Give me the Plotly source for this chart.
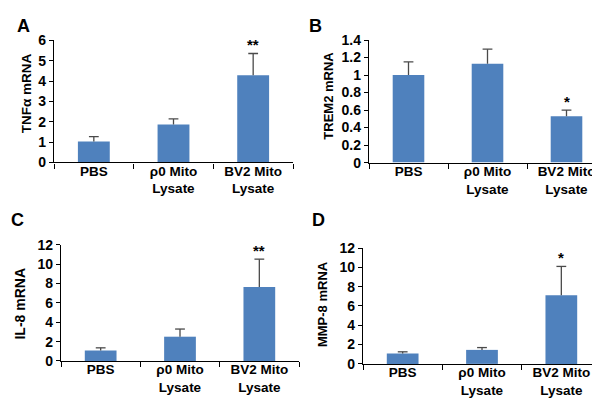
import plotly.graph_objects as go

categories = ["PBS", "ρ0 Mito<br>Lysate", "BV2 Mito<br>Lysate"]

tnf_values = [1.03, 1.87, 4.29]
tnf_errors = [0.24, 0.27, 1.07]
tnf_stars = ["", "", "**"]

trem2_values = [1.00, 1.13, 0.53]
trem2_errors = [0.15, 0.165, 0.07]
trem2_stars = ["", "", "*"]

il8_values = [1.09, 2.51, 7.64]
il8_errors = [0.27, 0.79, 2.88]
il8_stars = ["", "", "**"]

mmp8_values = [1.08, 1.45, 7.1]
mmp8_errors = [0.17, 0.24, 3.0]
mmp8_stars = ["", "", "*"]

panel_letters = ["A", "B", "C", "D"]
y_titles = ["TNFα mRNA", "TREM2 mRNA", "IL-8 mRNA", "MMP-8 mRNA"]
y_ranges = [(0, 6), (0, 1.4), (0, 12), (0, 12)]
y_dticks = [1, 0.2, 2, 2]
y_tickformats = ["d", "", "d", "d"]

W, H = 600, 402
BAR = "#4F81BD"
ERR = "#4a4a4a"
FONT = "Liberation Sans, Arial, sans-serif"

# pixel geometry of each panel: x0, x1, y_at_zero, y_at_max
geom = [
    (46, 285, 152.5, 25.5),
    (361, 598, 152.7, 25.0),
    (53, 291, 359.3, 238.3),
    (355, 593, 362.3, 241.7),
]
letter_pos = [(15, 10), (307, 10), (9, 212), (310, 212)]
ytitle_pos = [(18.5, 81), (321, 83), (12.5, 300), (314, 300)]
ytitle_sizes = [13.5, 13, 14, 13]

datasets = [
    (tnf_values, tnf_errors, tnf_stars),
    (trem2_values, trem2_errors, trem2_stars),
    (il8_values, il8_errors, il8_stars),
    (mmp8_values, mmp8_errors, mmp8_stars),
]

fig = go.Figure()
annotations = []
for i, (vals, errs, stars) in enumerate(datasets):
    n = i + 1
    xa = "x" if n == 1 else f"x{n}"
    ya = "y" if n == 1 else f"y{n}"
    fig.add_trace(go.Bar(
        x=categories, y=vals, xaxis=xa, yaxis=ya,
        marker=dict(color=BAR, line=dict(width=0)),
        error_y=dict(type="data", array=errs, arrayminus=[0] * 3,
                     symmetric=False, color=ERR, thickness=1.3, width=0),
        showlegend=False, hoverinfo="skip",
    ))
    fig.add_trace(go.Scatter(
        x=categories, y=[v + e for v, e in zip(vals, errs)],
        xaxis=xa, yaxis=ya, mode="markers",
        marker=dict(symbol="line-ew", size=7, line=dict(color=ERR, width=1.3)),
        showlegend=False, hoverinfo="skip",
    ))
    x0, x1, yz, ym = geom[i]
    lo, hi = y_ranges[i]
    xkey = "xaxis" if n == 1 else f"xaxis{n}"
    ykey = "yaxis" if n == 1 else f"yaxis{n}"
    fig.update_layout(**{
        xkey: dict(domain=[x0 / W, x1 / W], anchor=ya, type="category",
                   range=[-0.5, 2.5], showline=True, linecolor="black",
                   linewidth=1.3, ticks="outside", tickson="boundaries",
                   ticklen=5, tickcolor="black", tickwidth=1.3,
                   ticklabelstandoff=-4,
                   tickmode="array", tickvals=categories,
                   ticktext=[f"<b>{c}</b>" for c in categories],
                   tickfont=dict(family=FONT, size=13.5, color="black", weight="bold"),
                   showgrid=False, zeroline=False, fixedrange=True),
        ykey: dict(domain=[1 - yz / H, 1 - ym / H], anchor=xa,
                   range=[lo, hi], dtick=y_dticks[i], tick0=0,
                   tickformat=y_tickformats[i],
                   showline=True, linecolor="black", linewidth=1.3,
                   ticks="outside", ticklen=4, tickcolor="black", tickwidth=1.3,
                   tickfont=dict(family=FONT, size=14, color="black", weight="bold"),
                   showgrid=False, zeroline=False, fixedrange=True),
    })
    for c, v, e, s in zip(categories, vals, errs, stars):
        if s:
            annotations.append(dict(x=c, y=v + e, xref=xa, yref=ya, text=f"<b>{s}</b>",
                                    showarrow=False, yanchor="bottom", yshift=-2,
                                    font=dict(family=FONT, size=15, color="black")))
    lx, ly = letter_pos[i]
    annotations.append(dict(x=lx / W, y=1 - ly / H, xref="paper", yref="paper",
                            text=f"<b>{panel_letters[i]}</b>", showarrow=False,
                            xanchor="center", yanchor="middle",
                            font=dict(family=FONT, size=18, color="black")))
    tx, ty = ytitle_pos[i]
    annotations.append(dict(x=tx / W, y=1 - ty / H, xref="paper", yref="paper",
                            text=f"<b>{y_titles[i]}</b>", showarrow=False,
                            textangle=-90, xanchor="center", yanchor="middle",
                            font=dict(family=FONT, size=ytitle_sizes[i],
                                      color="black")))

fig.update_layout(
    width=W, height=H, margin=dict(l=0, r=0, t=0, b=0),
    paper_bgcolor="white", plot_bgcolor="white",
    bargap=0.6, annotations=annotations,
    font=dict(family=FONT, color="black"),
)

fig.write_html("out.html")
